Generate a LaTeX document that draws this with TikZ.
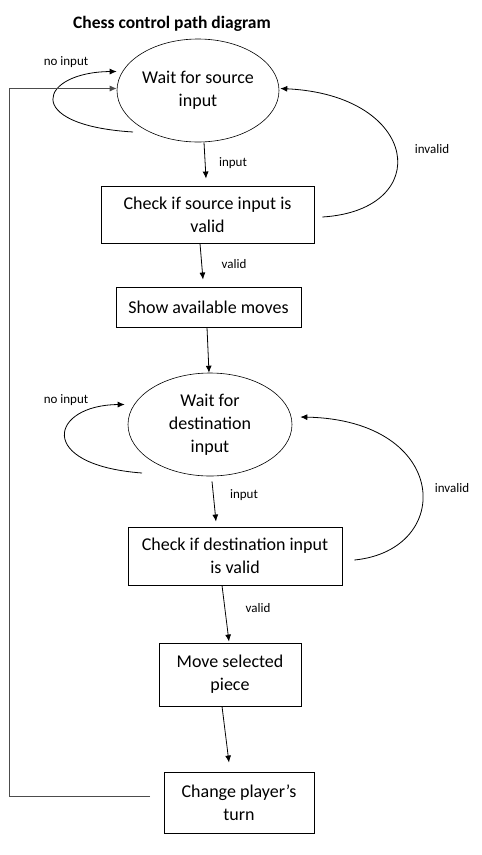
\documentclass[tikz,border=0pt]{standalone}
\usepackage{fontspec}
\setmainfont{Carlito}
\usetikzlibrary{arrows.meta, shapes.geometric}

\begin{document}
\begin{tikzpicture}[x=1pt, y=-1pt,
  state/.style={draw, line width=0.6pt, ellipse, inner sep=0pt, align=center,
    font=\fontsize{18}{23}\selectfont},
  box/.style={draw, line width=0.9pt, inner sep=0pt, align=center,
    font=\fontsize{18}{23}\selectfont},
  lbl/.style={font=\fontsize{13}{15}\selectfont, inner sep=0pt},
  arr/.style={-{Latex[length=7pt, width=6pt]}, line width=0.8pt}
]
\useasboundingbox (0,0) rectangle (482,855);
\node[font=\fontsize{17.5}{20}\selectfont\bfseries] (title) at (172,24) {Chess control\ path diagram};

\node[state, minimum width=162pt, minimum height=103pt] (waitsrc) at (198,90.5) {Wait for source\\input};
\node[box, minimum width=213pt, minimum height=57pt] (checksrc) at (207.5,214.5) {Check if source input is\\valid};
\node[box, minimum width=185pt, minimum height=40pt] (moves) at (208.5,307) {Show available moves};
\node[state, minimum width=164pt, minimum height=103pt] (waitdst) at (210,424.5) {Wait for\\destination\\input};
\node[box, minimum width=214pt, minimum height=58pt] (checkdst) at (235,556) {Check if destination input\\is valid};
\node[box, minimum width=142pt, minimum height=63pt] (movepiece) at (230,674.5) {Move selected\\piece};
\node[box, minimum width=150pt, minimum height=61pt] (turn) at (239,802.5) {Change player’s\\turn};

\node[lbl] (noinsrc) at (66,62) {no input};
\node[lbl] (insrc) at (233,163) {input};
\node[lbl] (invsrc) at (432,149) {invalid};
\node[lbl] (validsrc) at (234,264) {valid};
\node[lbl] (noindst) at (66,400) {no input};
\node[lbl] (indst) at (244,495) {input};
\node[lbl] (invdst) at (452,488) {invalid};
\node[lbl] (validdst) at (258,608) {valid};

\coordinate (back) at (150,796);

\draw[arr] ([xshift=6pt]waitsrc.south) -- ([xshift=-1.5pt, yshift=7pt]checksrc.north);
\draw[arr] ([xshift=-7.5pt]checksrc.south) -- ([xshift=-5.5pt, yshift=7pt]moves.north);
\draw[arr] ([xshift=-1.5pt]moves.south) -- ([xshift=-1pt]waitdst.north);
\draw[arr] ([xshift=2pt, yshift=-5pt]waitdst.south) -- ([xshift=-19pt, yshift=5pt]checkdst.north);
\draw[arr] ([xshift=-13pt]checkdst.south) -- ([xshift=-1pt, yshift=1pt]movepiece.north);
\draw[arr] ([xshift=-8pt]movepiece.south) -- ([xshift=-10pt, yshift=9pt]turn.north);

\draw[arr] ([xshift=-65pt, yshift=-41.5pt]waitsrc.center) .. controls (20,125) and (40,72) .. ([yshift=19pt]waitsrc.west);
\draw[arr] ([xshift=8pt, yshift=-2.5pt]checksrc.east) .. controls (435,210) and (420,95) .. ([xshift=1pt, yshift=2pt]waitsrc.east);
\draw[arr] ([xshift=-68pt, yshift=-48.5pt]waitdst.center) .. controls (35,465) and (50,405) .. ([xshift=-3pt, yshift=20pt]waitdst.west);
\draw[arr] ([xshift=12pt, yshift=-4pt]checkdst.east) .. controls (455,550) and (450,420) .. ([xshift=8pt, yshift=7.5pt]waitdst.east);

\draw[arr, black!70] (back) -- ++(-141,0) |- ([yshift=2pt]waitsrc.west);
\end{tikzpicture}
\end{document}
